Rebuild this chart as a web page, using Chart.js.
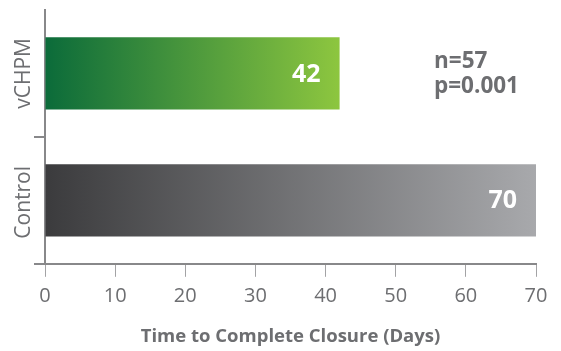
<!DOCTYPE html>
<html>
<head>
<meta charset="utf-8">
<script src="https://cdn.jsdelivr.net/npm/chart.js@4.4.1/dist/chart.umd.min.js"></script>
<style>
  html, body { margin: 0; padding: 0; background: #fff; }
  #wrap { width: 561px; height: 351px; }
</style>
</head>
<body>
<div id="wrap"><canvas id="bars"></canvas></div>
<script>
var groups = ['vCHPM', 'Control'];
var days = [42, 70];
var xTicks = [0, 10, 20, 30, 40, 50, 60, 70];
var notes = ['n=57', 'p=0.001'];
var axisTitle = 'Time to Complete Closure (Days)';

var gradStops = [
    ['#0b6b3a', '#8dc63f'],
    ['#3b3b3d', '#a8a9ac']
];
var grey = '#6d6e71';

function barFill(context) {
    var chart = context.chart;
    var area = chart.chartArea;
    if (!area) return gradStops[context.dataIndex][0];
    var x0 = chart.scales.x.getPixelForValue(0);
    var x1 = chart.scales.x.getPixelForValue(days[context.dataIndex]);
    var g = chart.ctx.createLinearGradient(x0, 0, x1, 0);
    g.addColorStop(0, gradStops[context.dataIndex][0]);
    g.addColorStop(1, gradStops[context.dataIndex][1]);
    return g;
}

// labels on bars, rotated group names, n/p note
var extras = {
    id: 'extras',
    afterDraw: function (chart) {
        var ctx = chart.ctx;
        var meta = chart.getDatasetMeta(0);
        var area = chart.chartArea;
        ctx.save();
        ctx.fillStyle = '#ffffff';
        ctx.font = 'bold 25px "Open Sans"';
        ctx.textAlign = 'right';
        ctx.textBaseline = 'middle';
        meta.data.forEach(function (bar, i) {
            ctx.fillText(String(days[i]), bar.x - 19, bar.y + 1);
        });

        ctx.fillStyle = grey;
        ctx.font = '21px "Open Sans"';
        ctx.textAlign = 'center';
        groups.forEach(function (g, i) {
            var y = chart.scales.y.getPixelForValue(i);
            ctx.save();
            ctx.translate(area.left - 21, y + 2 * i);
            ctx.rotate(-Math.PI / 2);
            ctx.fillText(g, 0, 0);
            ctx.restore();
        });

        ctx.font = 'bold 22.5px "Open Sans"';
        ctx.textAlign = 'left';
        notes.forEach(function (t, i) {
            ctx.fillText(t, area.left + 389, 62 + i * 25);
        });
        ctx.restore();
    }
};

var ctx = document.getElementById('bars');
var myChart = new Chart(ctx, {
    type: 'bar',
    data: {
        labels: groups,
        datasets: [
            {
                data: days,
                backgroundColor: barFill,
                borderWidth: 0,
                categoryPercentage: 0.57,
                barPercentage: 1
            }
        ]
    },
    options: {
        indexAxis: 'y',
        responsive: true,
        maintainAspectRatio: false,
        animation: false,
        layout: { padding: { top: 10, right: 25, bottom: 3, left: 0 } },
        plugins: {
            legend: { display: false },
            tooltip: { enabled: false }
        },
        scales: {
            x: {
                min: 0,
                max: 70,
                afterBuildTicks: function (scale) {
                    scale.ticks = xTicks.map(function (v) { return { value: v }; });
                },
                grid: {
                    drawOnChartArea: false,
                    drawTicks: true,
                    tickLength: 13,
                    color: '#a3a3a5',
                    lineWidth: 1
                },
                border: { color: '#88888a', width: 2 },
                ticks: {
                    color: grey,
                    padding: 7,
                    font: { family: 'Open Sans', size: 20 }
                },
                title: {
                    display: true,
                    text: axisTitle,
                    color: grey,
                    padding: { top: 11, bottom: 0 },
                    font: { family: 'Open Sans', size: 18.5, weight: 'bold' }
                }
            },
            y: {
                grid: {
                    offset: true,
                    drawOnChartArea: false,
                    drawTicks: true,
                    tickLength: 11,
                    lineWidth: 2,
                    color: function (c) { return c.index === 0 ? 'rgba(0,0,0,0)' : '#88888a'; }
                },
                border: { color: '#88888a', width: 2 },
                ticks: { display: false },
                afterFit: function (scale) { scale.width = 45; }
            }
        }
    },
    plugins: [extras]
});
</script>
</body>
</html>
